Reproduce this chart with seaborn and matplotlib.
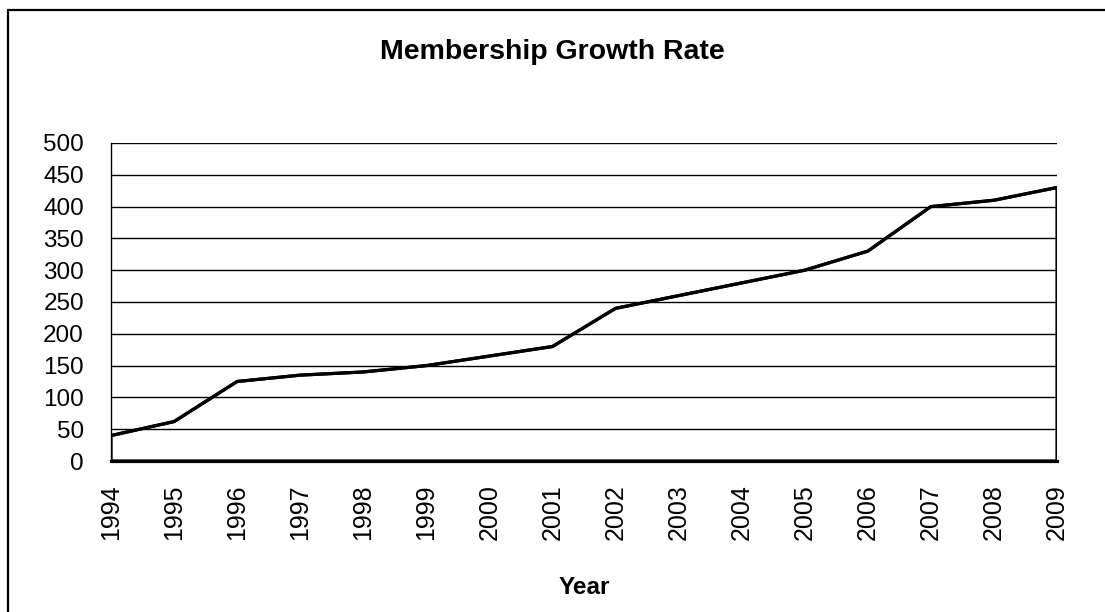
import matplotlib
matplotlib.use("Agg")
import matplotlib.pyplot as plt
from matplotlib.lines import Line2D
import seaborn as sns
import pandas as pd

years = [1994, 1995, 1996, 1997, 1998, 1999, 2000, 2001,
         2002, 2003, 2004, 2005, 2006, 2007, 2008, 2009]
members = [40, 62, 125, 135, 140, 150, 165, 180,
           240, 260, 280, 300, 330, 400, 410, 430]
y_ticks = [0, 50, 100, 150, 200, 250, 300, 350, 400, 450, 500]
title = "Membership Growth Rate"
x_label = "Year"

df = pd.DataFrame({"Year": years, "Members": members})

sns.set_style("white")
plt.rcParams["font.family"] = ["Liberation Sans", "DejaVu Sans"]

W, H = 1105, 612
fig = plt.figure(figsize=(W / 100, H / 100), dpi=100)
fig.patch.set_facecolor("white")
ax = fig.add_axes([111 / W, 1 - 461 / H, (1057 - 111) / W, (461 - 143) / H])

ax.set_xlim(years[0], years[-1])
ax.set_ylim(0, 500)
ax.set_yticks(y_ticks)
ax.yaxis.grid(True, color="black", linewidth=1.0)
ax.set_axisbelow(True)

# area outline (no fill) like the original chart
ax.fill_between(df["Year"], df["Members"], 0, facecolor="none",
                edgecolor="black", linewidth=2.3, zorder=3)
sns.lineplot(data=df, x="Year", y="Members", color="black",
             linewidth=2.3, ax=ax, zorder=4)

ax.set_xticks(years)
ax.set_xticklabels([str(y) for y in years], rotation=90)
ax.set_xlabel("")
ax.set_ylabel("")

for s in ["top", "right"]:
    ax.spines[s].set_visible(False)
ax.spines["left"].set_color("black")
ax.spines["left"].set_linewidth(1.0)
ax.spines["bottom"].set_color("black")
ax.spines["bottom"].set_linewidth(2.3)

ax.tick_params(axis="both", direction="out", length=6.5, width=1.0,
               color="black", labelcolor="black")
ax.tick_params(axis="y", pad=13, labelsize=17.5)
ax.tick_params(axis="x", pad=10.5, labelsize=18)

fig.text(0.5, 1 - 52 / H, title, ha="center", va="center",
         fontsize=20.5, fontweight="bold", color="black")
fig.text(584 / W, 1 - 587 / H, x_label, ha="center", va="center",
         fontsize=17.5, fontweight="bold", color="black")

# outer chart border (top and left visible)
fig.add_artist(Line2D([7.5 / W, 1.0], [1 - 9.5 / H, 1 - 9.5 / H],
                      color="black", linewidth=1.6, transform=fig.transFigure))
fig.add_artist(Line2D([7.5 / W, 7.5 / W], [1 - 9.5 / H, 0.0],
                      color="black", linewidth=1.6, transform=fig.transFigure))

fig.savefig("out.png", dpi=100)
